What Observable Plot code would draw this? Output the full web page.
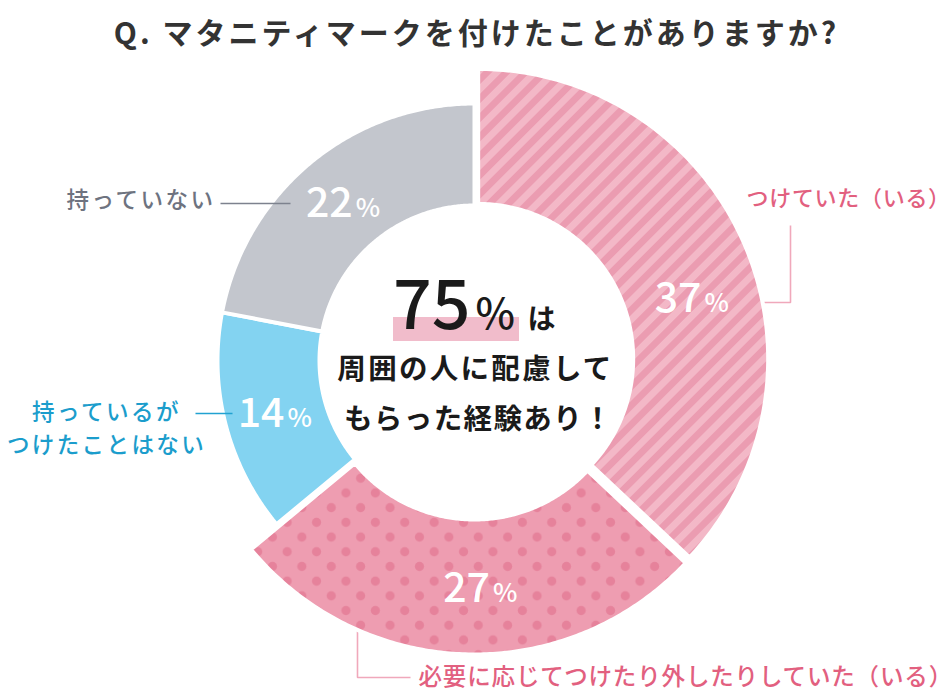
<!DOCTYPE html>
<html><head><meta charset="utf-8">
<script src="https://cdn.jsdelivr.net/npm/d3@7"></script>
<script src="https://cdn.jsdelivr.net/npm/@observablehq/plot@0.6"></script>
<style>html,body{margin:0;padding:0;background:#fff;} #chart{width:952px;height:700px;overflow:hidden;}</style>
</head><body><div id="chart"></div>
<script>
// ---- data ----
const title = "Q. マタニティマークを付けたことがありますか?";
const categories = ["つけていた（いる）", "必要に応じてつけたり外したりしていた（いる）", "持っているがつけたことはない", "持っていない"];
const labelLines = [["つけていた（いる）"], ["必要に応じてつけたり外したりしていた（いる）"], ["持っているが", "つけたことはない"], ["持っていない"]];
const values = [37, 27, 14, 22];
const centerValue = "75";
const centerUnit = "%";
const centerParticle = "は";
const centerLines = ["周囲の人に配慮して", "もらった経験あり！"];

// ---- layout & style ----
const W = 952, H = 700, CX = 474, CY = 360;
const rInner = 155, rOuter = 257, rOuterExploded = 290, explodeOffset = 4;
const exploded = [true, true, false, false];
const fills = ["url(#stripes)", "url(#dots)", "#83d3f1", "#c3c6cd"];
const labelColors = ["#e2607f", "#e2607f", "#1b9dcc", "#6e7380"];
const leaderColors = ["#f0a8bb", "#f0a8bb", "#22a2d1", "#7d828e"];
const labelAngleShift = [7.1, -3.3, 0, 0];
const FONT = "'Noto Sans CJK JP', 'Noto Sans', sans-serif";

const pie = d3.pie().sort(null).value(d => d)(values);
const toRad = d => d * Math.PI / 180;

const sliceMarks = [];
const pctNum = [], pctUnit = [];
pie.forEach((p, i) => {
  const R = exploded[i] ? rOuterExploded : rOuter;
  const mid = (p.startAngle + p.endAngle) / 2;
  const off = exploded[i] ? explodeOffset : 0;
  const ox = off * Math.sin(mid), oy = off * Math.cos(mid);
  const n = 160, pts = [];
  for (let k = 0; k <= n; k++) {
    const a = p.startAngle + (p.endAngle - p.startAngle) * k / n;
    pts.push({x: ox + R * Math.sin(a), y: oy + R * Math.cos(a)});
  }
  for (let k = n; k >= 0; k--) {
    const a = p.startAngle + (p.endAngle - p.startAngle) * k / n;
    pts.push({x: ox + rInner * Math.sin(a), y: oy + rInner * Math.cos(a)});
  }
  sliceMarks.push(Plot.line(pts, {x: "x", y: "y", curve: "linear-closed", fill: fills[i], stroke: "white", strokeWidth: 4}));
  const la = mid + toRad(labelAngleShift[i]);
  const rm = (R + rInner) / 2 + off;
  const lx = rm * Math.sin(la), ly = rm * Math.cos(la);
  pctNum.push({x: lx + 9.5, y: ly - 15, t: String(values[i])});
  pctUnit.push({x: lx + 12.5, y: ly - 15, t: "%"});
});

// leader lines (relative to donut centre, y up)
const leaderUnder = [
  {i: 0, pts: [[280, 58], [316, 58], [316, 135]]},
  {i: 1, pts: [[-117, -250], [-117, -317], [-64, -317]]}
];
const leaderOver = [
  {i: 2, pts: [[-279, -53], [-242, -53]]},
  {i: 3, pts: [[-254, 157], [-184, 157]]}
];
const leaderMark = l => Plot.line(l.pts.map(([x, y]) => ({x, y})), {x: "x", y: "y", stroke: leaderColors[l.i], strokeWidth: 1.6, strokeLinecap: "butt", strokeLinejoin: "miter"});

const outerLabels = [
  {x: 272, y: 162, t: labelLines[0][0], i: 0, anchor: "start", fs: 22},
  {x: -56, y: -317, t: labelLines[1][0], i: 1, anchor: "start", fs: 23.5},
  {x: -368, y: -52, t: labelLines[2][0], i: 2, anchor: "middle", fs: 22.5},
  {x: -368, y: -85, t: labelLines[2][1], i: 2, anchor: "middle", fs: 22.5},
  {x: -259, y: 160, t: labelLines[3][0], i: 3, anchor: "end", fs: 22.5}
];
// letter spacing per text string (px)
const spacing = new Map([
  [title, 3.0],
  [centerLines[0], 2.3],
  [centerLines[1], 1.4],
  [labelLines[0][0], 0.7],
  [labelLines[1][0], 0.85],
  [labelLines[2][0], 2.5],
  [labelLines[2][1], 2.4],
  [labelLines[3][0], 2.5]
]);

const marks = [
  ...leaderUnder.map(leaderMark),
  ...sliceMarks,
  ...leaderOver.map(leaderMark),
  Plot.text(pctNum, {x: "x", y: "y", text: "t", fill: "white", fontSize: 41, fontWeight: 500, textAnchor: "end", lineAnchor: "bottom", fontFamily: FONT}),
  Plot.text(pctUnit, {x: "x", y: "y", text: "t", fill: "white", fontSize: 26, fontWeight: 500, textAnchor: "start", lineAnchor: "bottom", fontFamily: FONT}),
  // centre highlight
  Plot.rect([{x1: -81, x2: 45, y1: 19, y2: 43}], {x1: "x1", x2: "x2", y1: "y1", y2: "y2", fill: "#f1bccb"}),
  Plot.text([centerValue], {x: -4, y: 32, text: d => d, fontSize: 68, fontWeight: 500, fill: "#1a1a1a", textAnchor: "end", lineAnchor: "bottom", fontFamily: FONT}),
  Plot.text([centerUnit], {x: 1, y: 32, text: d => d, fontSize: 42, fontWeight: 500, fill: "#1a1a1a", textAnchor: "start", lineAnchor: "bottom", fontFamily: FONT}),
  Plot.text([centerParticle], {x: 67, y: 32, text: d => d, fontSize: 28, fontWeight: 700, fill: "#1a1a1a", textAnchor: "middle", lineAnchor: "bottom", fontFamily: FONT}),
  Plot.text([centerLines[0]], {x: 1, y: -18, text: d => d, fontSize: 28.5, fontWeight: 700, fill: "#1a1a1a", textAnchor: "middle", lineAnchor: "bottom", fontFamily: FONT}),
  Plot.text([centerLines[1]], {x: 4, y: -68, text: d => d, fontSize: 28.5, fontWeight: 700, fill: "#1a1a1a", textAnchor: "middle", lineAnchor: "bottom", fontFamily: FONT}),
  // title
  Plot.text([title], {x: 2, y: 317, text: d => d, fontSize: 30, fontWeight: 700, fill: "#333333", textAnchor: "middle", lineAnchor: "bottom", fontFamily: FONT}),
  // outer labels
  ...outerLabels.map(l => Plot.text([l], {x: "x", y: "y", text: "t", fill: labelColors[l.i], fontSize: l.fs, fontWeight: 500, textAnchor: l.anchor, lineAnchor: "middle", fontFamily: FONT}))
];

const svg = Plot.plot({
  width: W, height: H,
  margin: 0, marginTop: 0, marginRight: 0, marginBottom: 0, marginLeft: 0,
  x: {domain: [-CX, W - CX], axis: null},
  y: {domain: [CY - H, CY], axis: null},
  style: {background: "white", fontFamily: FONT},
  marks
});

// patterns
const defs = d3.select(svg).insert("defs", ":first-child");
const SP = 13.5;
const st = defs.append("pattern").attr("id", "stripes").attr("patternUnits", "userSpaceOnUse")
  .attr("width", SP).attr("height", SP).attr("patternTransform", "rotate(45)");
st.append("rect").attr("width", SP).attr("height", SP).attr("fill", "#f3b8c7");
st.append("rect").attr("width", SP / 2).attr("height", SP).attr("fill", "#eb9cb1");
const dp = defs.append("pattern").attr("id", "dots").attr("patternUnits", "userSpaceOnUse")
  .attr("width", 29.4).attr("height", 29.4);
dp.append("rect").attr("width", 29.4).attr("height", 29.4).attr("fill", "#ee9db1");
dp.append("circle").attr("cx", 7.35).attr("cy", 7.35).attr("r", 4.6).attr("fill", "#e6829b");
dp.append("circle").attr("cx", 22.05).attr("cy", 22.05).attr("r", 4.6).attr("fill", "#e6829b");

// letter spacing, matched on text content
svg.querySelectorAll("text").forEach(t => {
  const ls = spacing.get(t.textContent);
  if (ls != null) {
    t.setAttribute("letter-spacing", ls);
    t.style.letterSpacing = ls + "px";
  }
});

document.getElementById("chart").appendChild(svg);
</script>
</body></html>
